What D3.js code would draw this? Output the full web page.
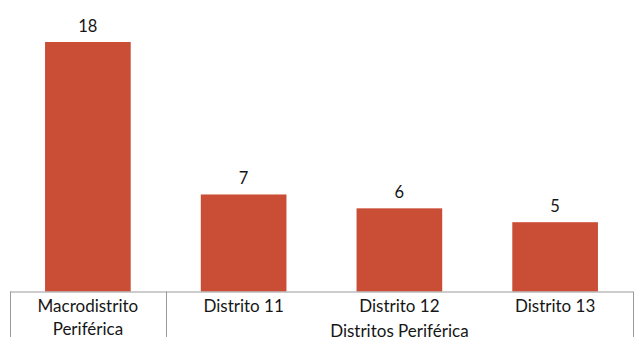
<!DOCTYPE html>
<html>
<head>
<meta charset="utf-8">
<script src="https://cdn.jsdelivr.net/npm/d3@7"></script>
<style>
  body { margin: 0; background: #fff; }
  text { font-family: Lato, "Open Sans", sans-serif; fill: #161616; }
</style>
</head>
<body>
<svg id="viz" width="644" height="359"></svg>
<script>
const categories = ["Macrodistrito|Periférica", "Distrito 11", "Distrito 12", "Distrito 13"];
const values = [18, 7, 6, 5];
const groupLabel = "Distritos Periférica";

let svg = d3.select("#viz");

let x = d3.scaleBand()
    .domain(categories)
    .range([10, 633])
    .paddingInner(0.45)
    .paddingOuter(0.225);

let y = d3.scaleLinear()
    .domain([0, 18])
    .range([291.5, 42]);

// bars
svg.selectAll(".bar")
    .data(values)
    .join("rect")
    .attr("class", "bar")
    .attr("x", (d, i) => x(categories[i]))
    .attr("width", x.bandwidth())
    .attr("y", d => y(d))
    .attr("height", d => y(0) - y(d))
    .attr("fill", "#CA4E36");

// value labels
svg.selectAll(".val")
    .data(values)
    .join("text")
    .attr("class", "val")
    .attr("x", (d, i) => x(categories[i]) + x.bandwidth() / 2)
    .attr("y", d => y(d) - 10)
    .attr("text-anchor", "middle")
    .attr("font-size", 16.5)
    .text(d => d);

// axis line
const axisColor = "#9a9a9a";
svg.append("line")
    .attr("x1", 10).attr("x2", 633)
    .attr("y1", y(0) + 0.5).attr("y2", y(0) + 0.5)
    .attr("stroke", axisColor);

// group separators: left edge, after first category, right edge
const step = x.step();
const seps = [10, 10 + step, 633];
svg.selectAll(".sep")
    .data(seps)
    .join("line")
    .attr("class", "sep")
    .attr("x1", d => Math.round(d) + 0.5).attr("x2", d => Math.round(d) + 0.5)
    .attr("y1", y(0)).attr("y2", 337)
    .attr("stroke", axisColor);

// category labels
svg.selectAll(".cat")
    .data(categories)
    .join("text")
    .attr("class", "cat")
    .attr("x", d => x(d) + x.bandwidth() / 2)
    .attr("y", 306)
    .attr("text-anchor", "middle")
    .attr("font-size", 17)
    .selectAll("tspan")
    .data(d => d.split("|"))
    .join("tspan")
    .attr("x", function () { return d3.select(this.parentNode).attr("x"); })
    .attr("dy", (d, i) => i === 0 ? "0.35em" : "1.35em")
    .text(d => d);

// group label under the districts
svg.append("text")
    .attr("x", (10 + step + 633) / 2)
    .attr("y", 331)
    .attr("dy", "0.35em")
    .attr("text-anchor", "middle")
    .attr("font-size", 17)
    .text(groupLabel);
</script>
</body>
</html>
